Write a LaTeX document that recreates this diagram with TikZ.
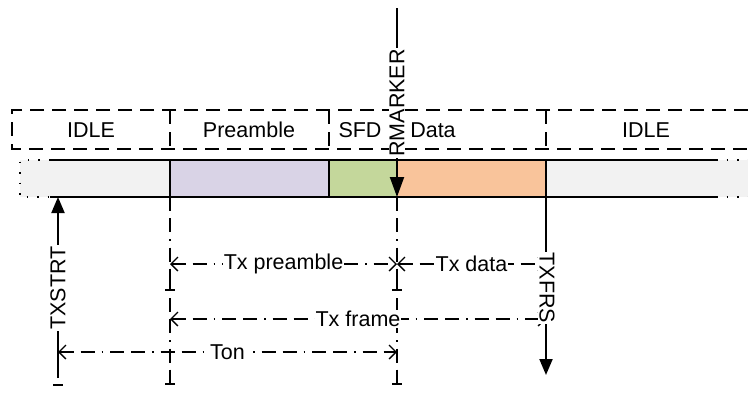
\documentclass[tikz,border=0pt]{standalone}
\usepackage{fontspec}
\setmainfont{Liberation Sans}
\usetikzlibrary{arrows.meta,calc}
\definecolor{idlegray}{HTML}{F2F2F2}
\definecolor{prelav}{HTML}{D9D3E6}
\definecolor{sfdgreen}{HTML}{C4D79B}
\definecolor{dataorange}{HTML}{F9C49B}
\begin{document}
\begin{tikzpicture}[x=1pt,y=-1pt,
  font=\fontsize{21.5}{25}\selectfont,
  boxline/.style={line width=1.8pt, dash pattern=on 14pt off 8pt},
  barline/.style={line width=1.8pt},
  dotline/.style={line width=1.8pt, dash pattern=on 1.5pt off 9pt},
  dimline/.style={line width=1.3pt, dash pattern=on 14pt off 7pt on 14pt off 7pt on 1.5pt off 7pt,
    {Straight Barb[length=7pt,width=14pt]}-{Straight Barb[length=7pt,width=14pt]}},
  extline/.style={line width=1.3pt, dash pattern=on 14pt off 7pt on 14pt off 7pt on 1.5pt off 7pt},
  tick/.style={line width=1.3pt},
  sig/.style={line width=2pt, -{Triangle[length=16pt,width=13pt]}},
  bigsig/.style={line width=2pt, -{Triangle[length=20pt,width=14pt]}},
  lbl/.style={fill=white, inner sep=1pt}
]
\useasboundingbox (0,0) rectangle (748,394);

% ---- timeline bar fills
\fill[idlegray] (20,160) rectangle (170,197);
\fill[prelav] (170,160) rectangle (329,197);
\fill[sfdgreen] (329,160) rectangle (397,197);
\fill[dataorange] (397,160) rectangle (546,197);
\fill[idlegray] (546,160) rectangle (748,197);

% bar outline
\coordinate (barTL) at (50,160);
\coordinate (barTR) at (716,160);
\coordinate (barBL) at (50,197);
\coordinate (barBR) at (716,197);
\draw[barline] (barTL) -- (barTR);
\draw[barline] (barBL) -- (barBR);
\draw[dotline] (50,160) -- (20,160) -- (20,197) -- (50,197);
\draw[dotline] (716,160) -- (748,160);
\draw[dotline] (716,197) -- (748,197);
% separators in the bar
\draw[barline] (170,160) -- (170,197);
\draw[barline] (329,160) -- (329,197);
\draw[barline] (546,160) -- (546,197);

% ---- dashed field row
\draw[boxline] (748,110) -- (12,110) -- (12,149) -- (748,149);
\draw[boxline] (170,110) -- (170,149);
\draw[boxline] (329,110) -- (329,149);
\draw[boxline] (546,110) -- (546,149);
\node (idle1) at (91,130) {IDLE};
\node (pre) at (249,130) {Preamble};
\node (sfd) at (360,130) {SFD};
\node (data) at (433,130) {Data};
\node (idle2) at (646,130) {IDLE};

% ---- extension lines
\coordinate (e1t) at (170,197);
\coordinate (e1b) at (170,384);
\coordinate (e2t) at (397,197);
\coordinate (e2b) at (397,384);
\draw[extline] (e1t) -- (e1b);
\draw[extline] (e2t) -- (e2b);
\foreach \xx in {170,397} {
  \draw[tick] (\xx-5,290) -- (\xx+5,290);
  \draw[tick] (\xx,282) -- (\xx,290);
  \draw[tick] (\xx-5,384) -- (\xx+5,384);
  \draw[tick] (\xx,376) -- (\xx,384);
}
\draw[tick] (53,385) -- (63,385);

% ---- dimension lines
\coordinate (pL) at (170,264);
\coordinate (pR) at (397,264);
\coordinate (dL) at (397,264);
\coordinate (dR) at (546,264);
\coordinate (fL) at (170,319);
\coordinate (fR) at (546,319);
\coordinate (oL) at (58,352);
\coordinate (oR) at (397,352);
\draw[dimline] (pL) -- (pR);
\draw[dimline] (dL) -- (dR);
\draw[dimline] (fL) -- (fR);
\draw[dimline] (oL) -- (oR);
\node[lbl] (txpre) at ($(pL)!0.5!(pR)$) {Tx preamble};
\node[lbl] (txdata) at ($(dL)!0.5!(dR)$) {Tx data};
\node[lbl] (txframe) at ($(fL)!0.5!(fR)$) {Tx frame};
\node[lbl] (ton) at ($(oL)!0.5!(oR)$) {Ton};

% ---- signals
\coordinate (rmTop) at (397,8);
\coordinate (rmTip) at (397,197);
\draw[bigsig] (rmTop) -- (rmTip);
\node[lbl, rotate=90] (rmarker) at (397,103) {RMARKER};

\coordinate (tsBot) at (58,378);
\coordinate (tsTip) at (58,197);
\draw[sig] (tsBot) -- (tsTip);
\node[lbl, rotate=90] (txstrt) at (58,288) {TXSTRT};

\coordinate (tfTop) at (546,197);
\coordinate (tfTip) at (546,375);
\draw[sig] (tfTop) -- (tfTip);
\node[lbl, rotate=-90] (txfrs) at (547,288) {TXFRS};
\end{tikzpicture}
\end{document}
